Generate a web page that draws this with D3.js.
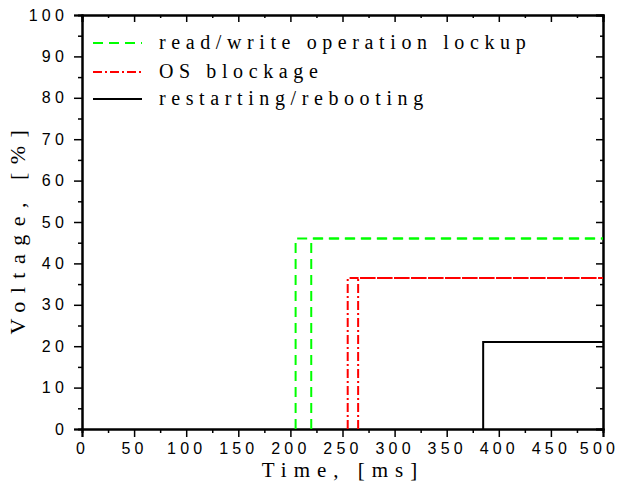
<!DOCTYPE html>
<html><head><meta charset="utf-8">
<script src="https://cdn.jsdelivr.net/npm/d3@7"></script>
<style>
body{margin:0;background:#fff;}
.tick text{font-family:"Liberation Sans",Arial,sans-serif;font-size:16px;letter-spacing:4.2px;fill:#000;}
</style></head>
<body><svg id="c" width="620" height="486"></svg>
<script>
// Data
const seriesNames = ["read/write operation lockup", "OS blockage", "restarting/rebooting"];
const greenOnsets = [205, 220];
const greenLevel = 46;
const redOnsets = [255, 265];
const redLevel = 36.5;
const blackOnsets = [385];
const blackLevel = 21;
const xMajorTicks = [0,50,100,150,200,250,300,350,400,450,500];
const xMinorTicks = [25,75,125,175,225,275,325,375,425,475];
const yMajorTicks = [0,10,20,30,40,50,60,70,80,90,100];
const yMinorTicks = [5,15,25,35,45,55,65,75,85,95];
const xEnd = 500;

const svg = d3.select("#c");
const L=82,R=603,T=15,B=429;
const x = d3.scaleLinear().domain([0,500]).range([L,R]);
const y = d3.scaleLinear().domain([0,100]).range([B,T]);

function styleAxis(g){
  g.selectAll(".domain").attr("stroke","#000").attr("stroke-width",2);
  g.selectAll(".tick line").attr("stroke","#000").attr("stroke-width",1.5);
}
// bottom
svg.append("g").attr("transform",`translate(0,${B})`)
  .call(d3.axisBottom(x).tickValues(xMinorTicks).tickSize(4).tickFormat("")).call(styleAxis);
const gb = svg.append("g").attr("transform",`translate(0,${B})`)
  .call(d3.axisBottom(x).tickValues(xMajorTicks).tickSize(8).tickPadding(6).tickFormat(d3.format("d"))).call(styleAxis);
gb.selectAll(".tick text").filter(d=>d===500).attr("dx","-4px");
// left
svg.append("g").attr("transform",`translate(${L},0)`)
  .call(d3.axisLeft(y).tickValues(yMinorTicks).tickSize(4).tickFormat("")).call(styleAxis);
svg.append("g").attr("transform",`translate(${L},0)`)
  .call(d3.axisLeft(y).tickValues(yMajorTicks).tickSize(8).tickPadding(6).tickFormat(d3.format("d"))).call(styleAxis);
// top (inward)
svg.append("g").attr("transform",`translate(0,${T})`)
  .call(d3.axisBottom(x).tickValues(xMajorTicks).tickSize(7).tickFormat("")).call(styleAxis);
svg.append("g").attr("transform",`translate(0,${T})`)
  .call(d3.axisBottom(x).tickValues(xMinorTicks).tickSize(3).tickFormat("")).call(styleAxis);
// right (inward)
svg.append("g").attr("transform",`translate(${R},0)`)
  .call(d3.axisLeft(y).tickValues(yMajorTicks).tickSize(7).tickFormat("")).call(styleAxis);
svg.append("g").attr("transform",`translate(${R},0)`)
  .call(d3.axisLeft(y).tickValues(yMinorTicks).tickSize(3).tickFormat("")).call(styleAxis);

// data lines
const line = d3.line().x(d=>x(d[0])).y(d=>y(d[1]));
const groups = [
  {onsets:greenOnsets, level:greenLevel, color:"#00ff00", dash:"10,6"},
  {onsets:redOnsets, level:redLevel, color:"#ff0000", dash:"9,3,2,3"},
  {onsets:blackOnsets, level:blackLevel, color:"#000000", dash:null}
];
groups.forEach(g=>{
  g.onsets.forEach(t=>{
    svg.append("path").datum([[t,0],[t,g.level],[xEnd,g.level]])
      .attr("d",line).attr("fill","none").attr("stroke",g.color)
      .attr("stroke-width",2).attr("stroke-dasharray",g.dash);
  });
});

// legend
const legY=[43,72,99];
seriesNames.forEach((n,i)=>{
  svg.append("line").attr("x1",93).attr("x2",142).attr("y1",legY[i]).attr("y2",legY[i])
    .attr("stroke",groups[i].color).attr("stroke-width",2).attr("stroke-dasharray",groups[i].dash);
  svg.append("text").attr("x",159).attr("y",legY[i]+6).text(n)
    .style("font-family","'Liberation Serif','Times New Roman',serif").style("font-size","20px")
    .style("letter-spacing","5.6px");
});

// axis titles
svg.append("text").attr("x",343).attr("y",477).attr("text-anchor","middle").text("Time, [ms]")
  .style("font-family","'Liberation Serif','Times New Roman',serif").style("font-size","21px").style("letter-spacing","7px");
svg.append("text").attr("transform","translate(25,228) rotate(-90)").attr("text-anchor","middle").text("Voltage, [%]")
  .style("font-family","'Liberation Serif','Times New Roman',serif").style("font-size","22px").style("letter-spacing","8.5px");
</script></body></html>
